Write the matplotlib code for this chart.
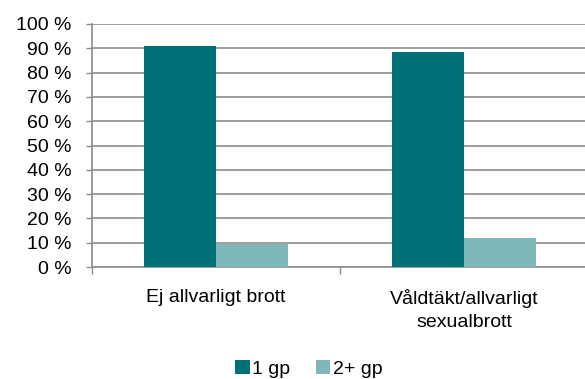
import numpy as np
import matplotlib.pyplot as plt

plt.rcParams['font.family'] = ['Liberation Sans', 'DejaVu Sans']

# Andel per brottstyp och antal gärningspersoner
kategorier = ["Ej allvarligt brott", "Våldtäkt/allvarligt\nsexualbrott"]
en_gp = [91.1, 88.5]
flera_gp = [9.6, 11.9]
serier = ["1 gp", "2+ gp"]
farger = ["#007176", "#7fb8bb"]

fs = 14

fig = plt.figure(figsize=(5.85, 3.79), dpi=100)
ax = fig.add_axes([92 / 585, 1 - 267 / 379, 496 / 585, 243 / 379])

x = np.arange(len(kategorier))
bredd = 0.29
ax.bar(x - bredd / 2, en_gp, bredd, color=farger[0], label=serier[0], zorder=3)
ax.bar(x + bredd / 2, flera_gp, bredd, color=farger[1], label=serier[1], zorder=3)

ax.set_xlim(-0.5, len(kategorier) - 0.5)
ax.set_ylim(0, 100)
ax.set_yticks(range(0, 101, 10))
ax.set_yticklabels([f"{v} %" for v in range(0, 101, 10)], fontsize=fs)
ax.yaxis.grid(True, color="#8c8c8c", linewidth=1.2, zorder=0)

# kategoriernas gränser som markeringar på x-axeln
ax.set_xticks([-0.5, 0.5, 1.5])
ax.set_xticklabels([])
ax.set_xticks(x, minor=True)
ax.set_xticklabels(kategorier, minor=True, fontsize=fs, linespacing=1.5)
ax.tick_params(axis="x", which="minor", length=0, pad=15.5)
ax.tick_params(axis="x", which="major", length=5, color="#8c8c8c", width=1)
ax.tick_params(axis="y", length=4.5, color="#8c8c8c", width=1, pad=10)

for side in ["top", "right"]:
    ax.spines[side].set_visible(False)
for side in ["left", "bottom"]:
    ax.spines[side].set_color("#8c8c8c")
    ax.spines[side].set_linewidth(1.2)

fig.legend(loc="center", bbox_to_anchor=(309 / 585, 1 - 369 / 379), ncol=2,
           frameon=False, fontsize=fs, handlelength=0.75, handleheight=0.75,
           handletextpad=0.15, columnspacing=1.3, borderpad=0)

fig.savefig("out.png", dpi=100)
